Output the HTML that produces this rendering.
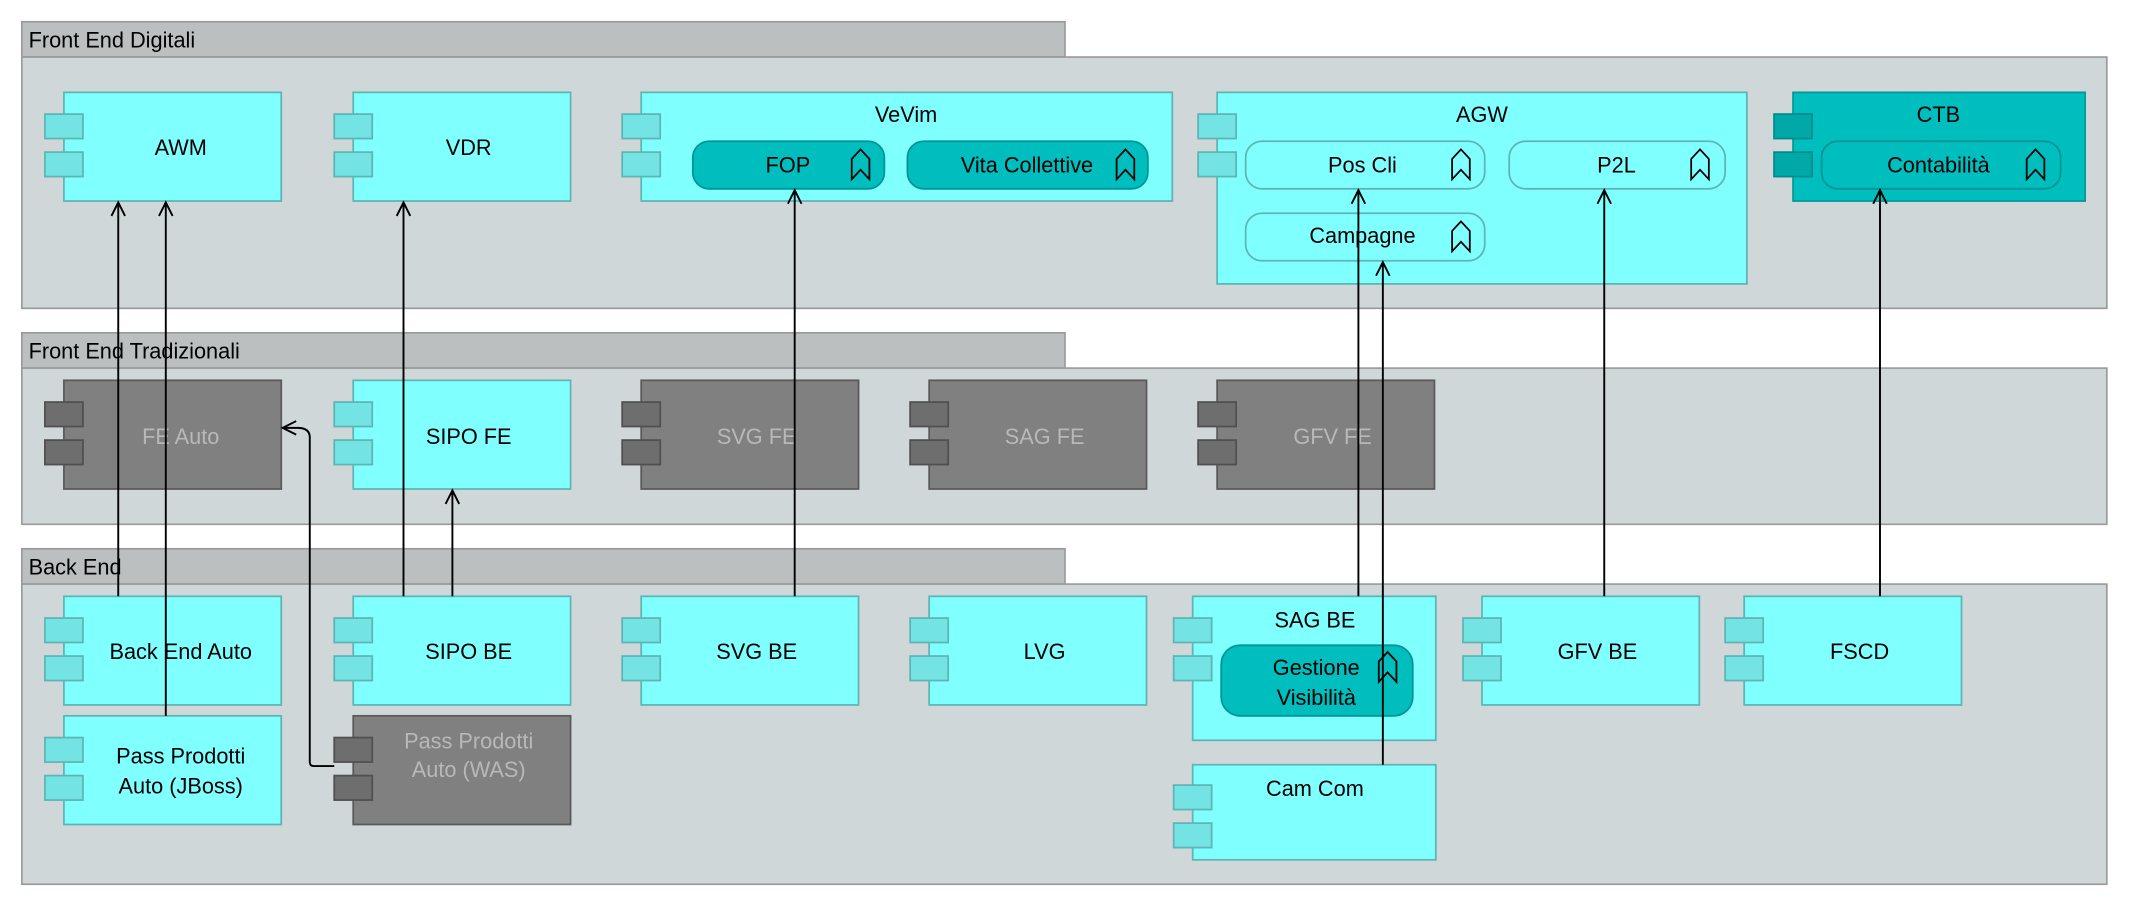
<!DOCTYPE html>
<html><head><meta charset="utf-8"><style>
html,body{margin:0;padding:0;background:#fff;}
svg{display:block;}
text{font-family:"Liberation Sans","DejaVu Sans",sans-serif;font-size:16px;}
.g{fill:#d0d7d8;stroke:#999;stroke-width:1.2}
.gt{fill:#bbbfc0;stroke:#999;stroke-width:1.2}
.c{fill:#80ffff;stroke:#5fb5b5;stroke-width:1.3}
.ct{fill:#73e3e3;stroke:#5fb5b5;stroke-width:1.3}
.d{fill:#00bebe;stroke:#009a9a;stroke-width:1.3}
.dt{fill:#00a8a8;stroke:#008c8c;stroke-width:1.3}
.x{fill:#808080;stroke:#5a5a5a;stroke-width:1.3}
.xt{fill:#6e6e6e;stroke:#505050;stroke-width:1.3}
.sl{fill:#80ffff;stroke:#5fb5b5;stroke-width:1.3}
.sd{fill:#00bebe;stroke:#009494;stroke-width:1.3}
.ic{fill:none;stroke:#000;stroke-width:1.3}
.ln{fill:none;stroke:#000;stroke-width:1.4}
.lb{text-anchor:middle;fill:#000}
.lg{text-anchor:middle;fill:#b8b8b8}
</style></head><body>
<svg width="2130" height="906" viewBox="0 0 1568 667" xmlns="http://www.w3.org/2000/svg">
<defs>
<g id="icon"><polygon class="ic" points="0,8 6.5,1 13,8 13,23 6.5,16 0,23"/></g>
</defs>
<rect width="1568" height="667" fill="#fff"/>
<!-- Groups -->
<rect class="gt" x="16" y="16" width="768" height="26"/>
<rect class="g" x="16" y="42" width="1535" height="185"/>
<text x="21" y="35">Front End Digitali</text>
<rect class="gt" x="16" y="245" width="768" height="26"/>
<rect class="g" x="16" y="271" width="1535" height="115"/>
<text x="21" y="264">Front End Tradizionali</text>
<rect class="gt" x="16" y="404" width="768" height="26"/>
<rect class="g" x="16" y="430" width="1535" height="221"/>
<text x="21" y="423">Back End</text>

<!-- Row 1 -->
<rect class="c" x="47" y="68" width="160" height="80"/><rect class="ct" x="33" y="84" width="28" height="18"/><rect class="ct" x="33" y="112" width="28" height="18"/>
<text class="lb" x="133" y="114">AWM</text>
<rect class="c" x="260" y="68" width="160" height="80"/><rect class="ct" x="246" y="84" width="28" height="18"/><rect class="ct" x="246" y="112" width="28" height="18"/>
<text class="lb" x="345" y="114">VDR</text>
<rect class="c" x="472" y="68" width="391" height="80"/><rect class="ct" x="458" y="84" width="28" height="18"/><rect class="ct" x="458" y="112" width="28" height="18"/>
<text class="lb" x="667" y="90">VeVim</text>
<rect class="sd" x="510" y="104" width="141" height="35" rx="12"/><text class="lb" x="580" y="127">FOP</text><use href="#icon" x="627" y="109"/>
<rect class="sd" x="668" y="104" width="177" height="35" rx="12"/><text class="lb" x="756" y="127">Vita Collettive</text><use href="#icon" x="822" y="109"/>
<rect class="c" x="896" y="68" width="390" height="141"/><rect class="ct" x="882" y="84" width="28" height="18"/><rect class="ct" x="882" y="112" width="28" height="18"/>
<text class="lb" x="1091" y="90">AGW</text>
<rect class="sl" x="917" y="104" width="176" height="35" rx="12"/><text class="lb" x="1003" y="127">Pos Cli</text><use href="#icon" x="1069" y="109"/>
<rect class="sl" x="1111" y="104" width="159" height="35" rx="12"/><text class="lb" x="1190" y="127">P2L</text><use href="#icon" x="1245" y="109"/>
<rect class="sl" x="917" y="157" width="176" height="35" rx="12"/><text class="lb" x="1003" y="179">Campagne</text><use href="#icon" x="1069" y="162"/>
<rect class="d" x="1320" y="68" width="215" height="80"/><rect class="dt" x="1306" y="84" width="28" height="18"/><rect class="dt" x="1306" y="112" width="28" height="18"/>
<text class="lb" x="1427" y="90">CTB</text>
<rect class="sd" x="1341" y="104" width="176" height="35" rx="12"/><text class="lb" x="1427" y="127">Contabilità</text><use href="#icon" x="1492" y="109"/>

<!-- Row 2 -->
<rect class="x" x="47" y="280" width="160" height="80"/><rect class="xt" x="33" y="296" width="28" height="18"/><rect class="xt" x="33" y="324" width="28" height="18"/>
<text class="lg" x="133" y="327">FE Auto</text>
<rect class="c" x="260" y="280" width="160" height="80"/><rect class="ct" x="246" y="296" width="28" height="18"/><rect class="ct" x="246" y="324" width="28" height="18"/>
<text class="lb" x="345" y="327">SIPO FE</text>
<rect class="x" x="472" y="280" width="160" height="80"/><rect class="xt" x="458" y="296" width="28" height="18"/><rect class="xt" x="458" y="324" width="28" height="18"/>
<text class="lg" x="557" y="327">SVG FE</text>
<rect class="x" x="684" y="280" width="160" height="80"/><rect class="xt" x="670" y="296" width="28" height="18"/><rect class="xt" x="670" y="324" width="28" height="18"/>
<text class="lg" x="769" y="327">SAG FE</text>
<rect class="x" x="896" y="280" width="160" height="80"/><rect class="xt" x="882" y="296" width="28" height="18"/><rect class="xt" x="882" y="324" width="28" height="18"/>
<text class="lg" x="981" y="327">GFV FE</text>

<!-- Row 3 -->
<rect class="c" x="47" y="439" width="160" height="80"/><rect class="ct" x="33" y="455" width="28" height="18"/><rect class="ct" x="33" y="483" width="28" height="18"/>
<text class="lb" x="133" y="485">Back End Auto</text>
<rect class="c" x="260" y="439" width="160" height="80"/><rect class="ct" x="246" y="455" width="28" height="18"/><rect class="ct" x="246" y="483" width="28" height="18"/>
<text class="lb" x="345" y="485">SIPO BE</text>
<rect class="c" x="472" y="439" width="160" height="80"/><rect class="ct" x="458" y="455" width="28" height="18"/><rect class="ct" x="458" y="483" width="28" height="18"/>
<text class="lb" x="557" y="485">SVG BE</text>
<rect class="c" x="684" y="439" width="160" height="80"/><rect class="ct" x="670" y="455" width="28" height="18"/><rect class="ct" x="670" y="483" width="28" height="18"/>
<text class="lb" x="769" y="485">LVG</text>
<rect class="c" x="878" y="439" width="179" height="106"/><rect class="ct" x="864" y="455" width="28" height="18"/><rect class="ct" x="864" y="483" width="28" height="18"/>
<text class="lb" x="968" y="462">SAG BE</text>
<rect class="sd" x="899" y="475" width="141" height="52" rx="14"/><text class="lb" x="969" y="497">Gestione</text><text class="lb" x="969" y="519">Visibilità</text><use href="#icon" x="1015" y="479"/>
<rect class="c" x="1091" y="439" width="160" height="80"/><rect class="ct" x="1077" y="455" width="28" height="18"/><rect class="ct" x="1077" y="483" width="28" height="18"/>
<text class="lb" x="1176" y="485">GFV BE</text>
<rect class="c" x="1284" y="439" width="160" height="80"/><rect class="ct" x="1270" y="455" width="28" height="18"/><rect class="ct" x="1270" y="483" width="28" height="18"/>
<text class="lb" x="1369" y="485">FSCD</text>
<rect class="c" x="47" y="527" width="160" height="80"/><rect class="ct" x="33" y="543" width="28" height="18"/><rect class="ct" x="33" y="571" width="28" height="18"/>
<text class="lb" x="133" y="562">Pass Prodotti</text><text class="lb" x="133" y="584">Auto (JBoss)</text>
<rect class="x" x="260" y="527" width="160" height="80"/><rect class="xt" x="246" y="543" width="28" height="18"/><rect class="xt" x="246" y="571" width="28" height="18"/>
<text class="lg" x="345" y="551">Pass Prodotti</text><text class="lg" x="345" y="572">Auto (WAS)</text>
<rect class="c" x="878" y="563" width="179" height="70"/><rect class="ct" x="864" y="578" width="28" height="18"/><rect class="ct" x="864" y="606" width="28" height="18"/>
<text class="lb" x="968" y="586">Cam Com</text>

<!-- Connectors -->
<g class="ln">
<path d="M87 439V149M82 159L87 149L92 159"/>
<path d="M122 527V149M117 159L122 149L127 159"/>
<path d="M297 439V149M292 159L297 149L302 159"/>
<path d="M333 439V361M328 371L333 361L338 371"/>
<path d="M585 439V140M580 150L585 140L590 150"/>
<path d="M1000 439V140M995 150L1000 140L1005 150"/>
<path d="M1018 563V193M1013 203L1018 193L1023 203"/>
<path d="M1181 439V140M1176 150L1181 140L1186 150"/>
<path d="M1384 439V140M1379 150L1384 140L1389 150"/>
<path d="M246 564H231Q228 564 228 561V322Q228 315 219 315H208M218 310L208 315L218 320"/>
</g>
</svg>
</body></html>
